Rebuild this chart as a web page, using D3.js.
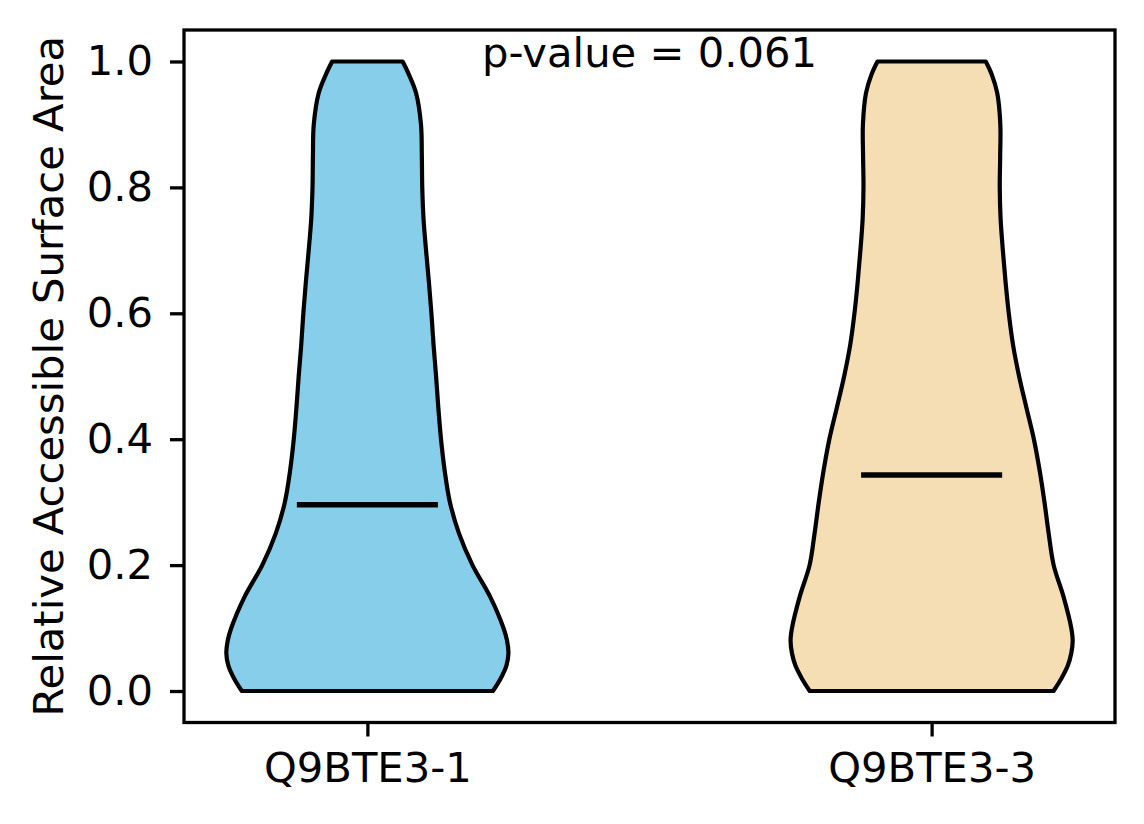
<!DOCTYPE html>
<html>
<head>
<meta charset="utf-8">
<script src="https://cdn.jsdelivr.net/npm/d3@7"></script>
<style>
  body { margin: 0; background: #fff; }
  text { font-family: "DejaVu Sans", sans-serif; fill: #000; }
</style>
</head>
<body>
<div id="chart"></div>
<script>
// groups and their positions on the x axis
var groups = ['Q9BTE3-1', 'Q9BTE3-3']
var positions = [1, 2]
var colors = ['#87CEEB', '#F5DEB3']

// rsa values where the violin outline was read
var rsaGrid = [0, 0.02, 0.04, 0.06, 0.08, 0.10, 0.15, 0.20, 0.25, 0.30, 0.35, 0.40, 0.45,
  0.50, 0.55, 0.60, 0.65, 0.70, 0.75, 0.80, 0.85, 0.90, 0.95, 0.98, 1.0]

// scaled density (1 = widest point) for each group
var density1 = [0.89, 0.945, 0.985, 1.0, 0.99, 0.965, 0.87, 0.745, 0.65, 0.585, 0.548, 0.522, 0.503,
  0.487, 0.469, 0.454, 0.436, 0.416, 0.398, 0.389, 0.386, 0.38, 0.345, 0.293, 0.25]
var density3 = [0.864, 0.92, 0.965, 0.99, 1.0, 0.99, 0.935, 0.865, 0.83, 0.8, 0.766, 0.725, 0.672,
  0.62, 0.577, 0.547, 0.524, 0.505, 0.489, 0.483, 0.486, 0.487, 0.465, 0.425, 0.384]
var densities = [density1, density3]

var means = [0.296, 0.343]
var yTicks = [0, 0.2, 0.4, 0.6, 0.8, 1.0]
var pValue = 0.061

var width = 1144
var height = 824
var margin = { top: 30, left: 184, right: 29, bottom: 101.5 }
var violinWidth = 0.5

var svg = d3.select('#chart')
  .append('svg')
  .attr('width', width)
  .attr('height', height)

var xPositionScale = d3.scaleLinear()
  .domain([0.675, 2.325])
  .range([margin.left, width - margin.right])

var yPositionScale = d3.scaleLinear()
  .domain([-0.05, 1.05])
  .range([height - margin.bottom, margin.top])

// violins
groups.forEach(function(g, i) {
  var pos = positions[i]
  var pts = rsaGrid.map(function(v, j) { return { v: v, w: densities[i][j] } })

  var area = d3.area()
    .curve(d3.curveCatmullRom.alpha(0.5))
    .y(function(d) { return yPositionScale(d.v) })
    .x0(function(d) { return xPositionScale(pos - d.w * violinWidth / 2) })
    .x1(function(d) { return xPositionScale(pos + d.w * violinWidth / 2) })

  svg.append('path')
    .datum(pts)
    .attr('d', area)
    .attr('fill', colors[i])
    .attr('stroke', '#000')
    .attr('stroke-width', 4.2)
    .attr('stroke-linejoin', 'round')

  // mean line
  svg.append('line')
    .attr('x1', xPositionScale(pos - violinWidth / 4))
    .attr('x2', xPositionScale(pos + violinWidth / 4))
    .attr('y1', yPositionScale(means[i]))
    .attr('y2', yPositionScale(means[i]))
    .attr('stroke', '#000')
    .attr('stroke-width', 5.5)
})

// axes
var yAxis = d3.axisLeft(yPositionScale)
  .tickValues(yTicks)
  .tickFormat(d3.format('.1f'))
  .tickSize(14)
  .tickPadding(17)

svg.append('g')
  .attr('class', 'axis y-axis')
  .attr('transform', 'translate(' + margin.left + ',0)')
  .call(yAxis)

var xAxis = d3.axisBottom(xPositionScale)
  .tickValues(positions)
  .tickFormat(function(d, i) { return groups[i] })
  .tickSize(14)
  .tickPadding(16)

svg.append('g')
  .attr('class', 'axis x-axis')
  .attr('transform', 'translate(0,' + (height - margin.bottom) + ')')
  .call(xAxis)

svg.selectAll('.axis .domain').remove()
svg.selectAll('.axis line').attr('stroke', '#000').attr('stroke-width', 3.3)
svg.selectAll('.axis text').style('font-size', '41.7px').attr('fill', '#000')

// frame
svg.append('rect')
  .attr('x', margin.left)
  .attr('y', margin.top)
  .attr('width', width - margin.left - margin.right)
  .attr('height', height - margin.top - margin.bottom)
  .attr('fill', 'none')
  .attr('stroke', '#000')
  .attr('stroke-width', 3.3)

// y label
svg.append('text')
  .attr('transform', 'translate(63,' + (margin.top + (height - margin.top - margin.bottom) / 2) + ') rotate(-90)')
  .attr('text-anchor', 'middle')
  .style('font-size', '41.7px')
  .text('Relative Accessible Surface Area')

// p-value annotation
svg.append('text')
  .attr('x', xPositionScale(1.5))
  .attr('y', yPositionScale(1.0) + 6)
  .attr('text-anchor', 'middle')
  .style('font-size', '41.7px')
  .text('p-value = ' + pValue)
</script>
</body>
</html>
